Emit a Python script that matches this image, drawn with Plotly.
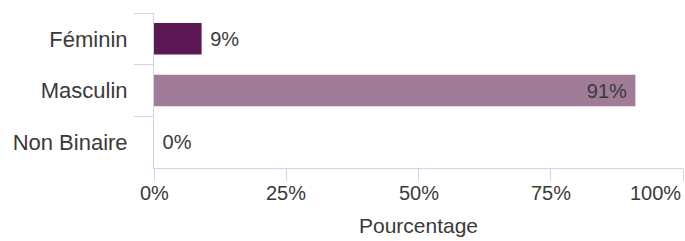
import plotly.graph_objects as go

categories = ["Féminin", "Masculin", "Non Binaire"]
values = [9, 91, 0]
labels = ["9%", "91%", "0%"]
bar_colors = ["#5c1854", "#a07c98", "#a07c98"]
text_positions = ["outside", "inside", "outside"]
tick_values = [0, 25, 50, 75, 100]
tick_labels = ["0%", "25%", "50%", "75%", "100%"]

FONT = "Liberation Sans, Arial, sans-serif"
AXIS_COLOR = "#ccd6eb"
TEXT_COLOR = "#3a3a3a"

fig = go.Figure(go.Bar(
    x=values, y=categories, orientation="h",
    marker=dict(color=bar_colors, line=dict(width=0)),
    text=["\u00a0" + t if p == "outside" else t + "\u00a0" for t, p in zip(labels, text_positions)],
    textposition=text_positions,
    insidetextanchor="end",
    textfont=dict(family=FONT, size=20, color=TEXT_COLOR),
    cliponaxis=False,
    hoverinfo="skip",
))

annotations = []
for v, t in zip(tick_values, tick_labels):
    annotations.append(dict(
        x=v, xref="x", y=0, yref="paper", yanchor="top",
        xanchor="right" if v == tick_values[-1] else "center",
        yshift=-12, text=t, showarrow=False,
        font=dict(family=FONT, size=20, color=TEXT_COLOR),
    ))

fig.update_layout(
    width=685, height=241,
    margin=dict(l=154, r=2, t=13, b=73),
    paper_bgcolor="white", plot_bgcolor="white",
    bargap=0.39,
    showlegend=False,
    font=dict(family=FONT, color=TEXT_COLOR),
    annotations=annotations,
    xaxis=dict(
        range=[0, 100], tickvals=tick_values, showticklabels=False,
        showgrid=False, zeroline=False,
        showline=True, linecolor=AXIS_COLOR, linewidth=1,
        ticks="outside", ticklen=12, tickcolor=AXIS_COLOR, tickwidth=1,
        title=dict(text="Pourcentage", font=dict(family=FONT, size=21, color=TEXT_COLOR), standoff=38),
    ),
    yaxis=dict(
        categoryorder="array", categoryarray=categories, autorange="reversed",
        showgrid=False, zeroline=False,
        showline=True, linecolor=AXIS_COLOR, linewidth=1,
        ticks="outside", tickson="boundaries", ticklen=19, tickcolor=AXIS_COLOR, tickwidth=1,
        tickfont=dict(family=FONT, size=22, color=TEXT_COLOR),
        ticklabelstandoff=21,
    ),
)

fig.write_html(
    "out.html",
    config={"displayModeBar": False},
    post_script="document.body.style.margin='0';document.body.style.overflow='hidden';",
)
